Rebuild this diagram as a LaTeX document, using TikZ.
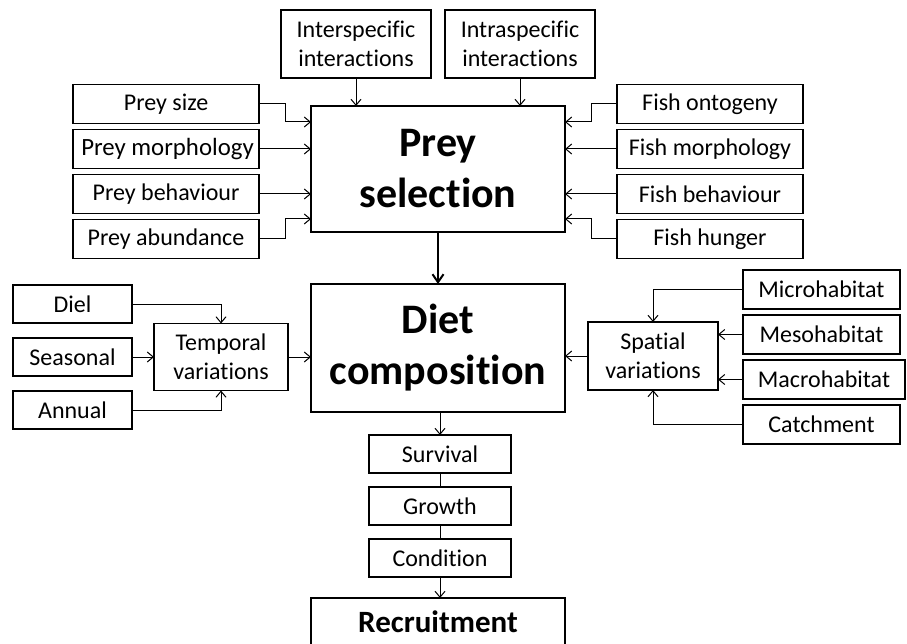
\documentclass[tikz,border=0pt]{standalone}
\usepackage{fontspec}
\setmainfont{Carlito}[Ligatures=NoCommon]
\usepackage{tikz}
\usetikzlibrary{positioning,arrows.meta}

\begin{document}
\begin{tikzpicture}[
      x=1pt, y=-1pt,
      node distance=6pt,
      small/.style={draw, line width=1.3pt, align=center, inner sep=0pt, outer sep=0pt, minimum height=39pt, minimum width=186pt, font=\fontsize{24}{29}\selectfont},
      big/.style={draw, line width=2.3pt, align=center, inner sep=0pt, outer sep=0pt, minimum width=254pt, font=\fontsize{42}{51}\selectfont\bfseries},
      arr/.style={-{Straight Barb[length=6pt, width=10pt]}, line width=1pt},
      thickarr/.style={-{Straight Barb[length=8pt, width=11pt, line width=2pt]}, line width=2.2pt}
    ]
    \useasboundingbox (0,0) rectangle (907,644);
    \clip (0,0) rectangle (907,644);
    \node[big, minimum height=126pt] (prey) at (438,169) {Prey\\selection};
    \node[big, minimum height=128pt] (diet) at (438,348) {Diet\\composition};
    \node[small, minimum width=150pt, minimum height=68pt] (inter) at (356,44) {Interspecific\\interactions};
    \node[small, minimum width=150pt, minimum height=68pt] (intra) at (520,44) {Intraspecific\\interactions};
    \node[small] (psize) at (166,104) {Prey size};
    \node[small, below=of psize, font=\fontsize{24.8}{29}\selectfont] (pmorph) {\hspace{3pt}Prey morphology};
    \node[small, below=of pmorph] (pbehav) {Prey behaviour};
    \node[small, below=of pbehav] (pabund) {Prey abundance};
    \node[small] (fonto) at (710,104) {Fish ontogeny};
    \node[small, below=of fonto] (fmorph) {Fish morphology};
    \node[small, below=of fmorph] (fbehav) {Fish behaviour};
    \node[small, below=of fbehav] (fhunger) {Fish hunger};
    \node[small, minimum width=119pt, minimum height=38pt] (diel) at (72.5,304) {Diel};
    \node[small, minimum width=119pt, minimum height=38pt, below=15pt of diel] (season) {Seasonal};
    \node[small, minimum width=119pt, minimum height=38pt, below=15pt of season] (annual) {Annual};
    \node[small, minimum width=134pt, minimum height=67pt] (temporal) at (221,357) {Temporal\\variations};
    \node[small, minimum width=130pt, minimum height=68pt] (spatial) at (653,356) {Spatial\\variations};
    \node[small, minimum width=157pt] (micro) at (821.5,289.5) {Microhabitat};
    \node[small, minimum width=157pt, below=of micro] (meso) {Mesohabitat};
    \node[small, minimum width=162pt, below=of meso.south west, anchor=north west] (macro) {Macrohabitat};
    \node[small, minimum width=157pt, below=of macro.south west, anchor=north west] (catch) {Catchment};
    \node[small, minimum width=142pt, minimum height=38pt] (surv) at (440,454) {Survival};
    \node[small, minimum width=142pt, minimum height=38pt, below=14pt of surv] (growth) {Growth};
    \node[small, minimum width=142pt, minimum height=38pt, below=14pt of growth] (cond) {Condition};
    \node[big, minimum height=68pt, text height=21pt, text depth=21pt, font=\fontsize{31}{37}\selectfont\bfseries] (recruit) at (438,632) {Recruitment};
    \draw[arr] (inter.south) -- (inter.south |- prey.north);
    \draw[arr] (intra.south) -- (intra.south |- prey.north);
    \draw[arr] (psize.east) -- ++(26,0) |- ([yshift=47pt]prey.west);
    \draw[arr] (pmorph.east) -- (pmorph.east -| prey.west);
    \draw[arr] (pbehav.east) -- (pbehav.east -| prey.west);
    \draw[arr] (pabund.east) -- ++(26,0) |- ([yshift=-50pt]prey.west);
    \draw[arr] (fonto.west) -- ++(-26,0) |- ([yshift=47pt]prey.east);
    \draw[arr] (fmorph.west) -- (fmorph.west -| prey.east);
    \draw[arr] (fbehav.west) -- (fbehav.west -| prey.east);
    \draw[arr] (fhunger.west) -- ++(-26,0) |- ([yshift=-50pt]prey.east);
    \draw[thickarr] (prey.south) -- (diet.north);
    \draw[arr] (diel.east) -| (temporal.north);
    \draw[arr] (season.east) -- (season.east -| temporal.west);
    \draw[arr] (annual.east) -| (temporal.south);
    \draw[arr] (temporal.east) -- (temporal.east -| diet.west);
    \draw[arr] (micro.west) -| (spatial.north);
    \draw[arr] (meso.west) -- (meso.west -| spatial.east);
    \draw[arr] (macro.west) -- (macro.west -| spatial.east);
    \draw[arr] (catch.west) -| (spatial.south);
    \draw[arr] (spatial.west) -- (spatial.west -| diet.east);
    \draw[arr] (diet.south -| surv.north) -- (surv.north);
    \draw[line width=1pt] (surv) -- (growth);
    \draw[line width=1pt] (growth) -- (cond);
    \draw[arr] (cond.south) -- (cond.south |- recruit.north);
  \end{tikzpicture}
\end{document}
